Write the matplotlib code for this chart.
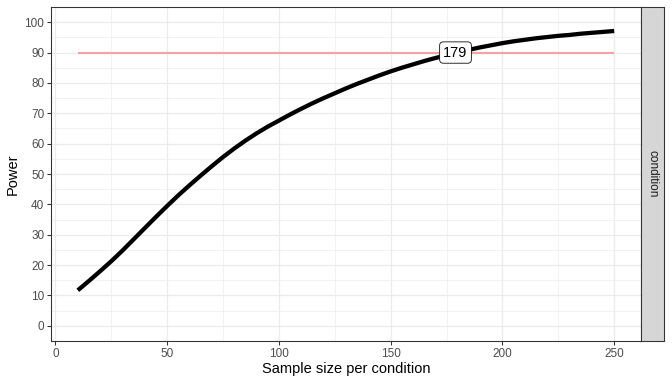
"""Power curve for sample size per condition, drawn in a ggplot theme_bw look."""

from __future__ import annotations

import matplotlib

matplotlib.use("Agg")
import matplotlib.pyplot as plt
from matplotlib.patches import Rectangle

# values, every 5 participants
sample_sizes = list(range(10, 251, 5))
power = [11.7, 14.8, 18.0, 21.3, 24.8, 28.5, 32.2, 35.9, 39.5, 43.0,
         46.3, 49.5, 52.6, 55.6, 58.4, 61.0, 63.4, 65.6, 67.6, 69.6,
         71.5, 73.3, 75.0, 76.6, 78.2, 79.7, 81.1, 82.5, 83.8, 85.0,
         86.1, 87.2, 88.2, 89.1, 90.0, 90.9, 91.7, 92.4, 93.1, 93.7,
         94.2, 94.7, 95.1, 95.5, 95.8, 96.2, 96.5, 96.8, 97.1]
target_power = 90
required_n = 179
x_breaks = [0, 50, 100, 150, 200, 250]
y_breaks = [0, 10, 20, 30, 40, 50, 60, 70, 80, 90, 100]
facet_label = "condition"

WIDTH_PX, HEIGHT_PX, DPI = 672, 384, 96
GRID_MAJOR = "#EBEBEB"
GREY20 = "#333333"
GREY30 = "#4D4D4D"

plt.rcParams["font.family"] = ["Liberation Sans", "DejaVu Sans"]


def px_box(left: float, top: float, right: float, bottom: float) -> list[float]:
    """Turn pixel edges into a figure-fraction rectangle."""

    return [left / WIDTH_PX, 1 - bottom / HEIGHT_PX,
            (right - left) / WIDTH_PX, (bottom - top) / HEIGHT_PX]


figure = plt.figure(figsize=(WIDTH_PX / DPI, HEIGHT_PX / DPI), dpi=DPI)
figure.patch.set_facecolor("white")
axis = figure.add_axes(px_box(51, 7, 641, 341))

# grid as in theme_bw
axis.set_xticks(x_breaks)
axis.set_yticks(y_breaks)
axis.set_xticks([25, 75, 125, 175, 225], minor=True)
axis.set_yticks([v + 5 for v in y_breaks[:-1]], minor=True)
axis.grid(which="major", color=GRID_MAJOR, linewidth=0.9)
axis.grid(which="minor", color=GRID_MAJOR, linewidth=0.45)
axis.set_axisbelow(True)

axis.plot([sample_sizes[0], sample_sizes[-1]], [target_power, target_power],
          color="#F4A3A3", linewidth=1.6, solid_capstyle="butt", zorder=2)
axis.plot(sample_sizes, power, color="black", linewidth=3.2,
          solid_capstyle="butt", solid_joinstyle="round", zorder=3)
axis.text(required_n, target_power, str(required_n), ha="center", va="center",
          fontsize=11, color="black", zorder=4,
          bbox=dict(boxstyle="round,pad=0.25,rounding_size=0.25",
                    facecolor="white", edgecolor="black", linewidth=0.6))

axis.set_xlim(-2, 262)
axis.set_ylim(-5, 105)
for spine in axis.spines.values():
    spine.set_color(GREY20)
    spine.set_linewidth(0.8)
axis.tick_params(which="major", length=2.75, width=0.8, color=GREY20,
                 labelcolor=GREY30, labelsize=8.8, pad=2.2)
axis.tick_params(which="minor", length=0)

figure.text(346 / WIDTH_PX, 1 - 369 / HEIGHT_PX, "Sample size per condition",
            ha="center", va="center", fontsize=11, color="black")
figure.text(13 / WIDTH_PX, 1 - 174 / HEIGHT_PX, "Power", rotation=90,
            ha="center", va="center", fontsize=11, color="black")

# facet strip on the right
strip = figure.add_axes(px_box(641, 7, 664, 341))
strip.set_xticks([])
strip.set_yticks([])
strip.add_patch(Rectangle((0, 0), 1, 1, transform=strip.transAxes,
                          facecolor="#D6D6D6", edgecolor="none"))
for spine in strip.spines.values():
    spine.set_color(GREY20)
    spine.set_linewidth(0.8)
strip.text(0.5, 0.5, facet_label, rotation=-90, ha="center", va="center",
           fontsize=8.8, color="#1A1A1A", transform=strip.transAxes)

figure.savefig("out.png", dpi=DPI, facecolor="white")
plt.close(figure)
